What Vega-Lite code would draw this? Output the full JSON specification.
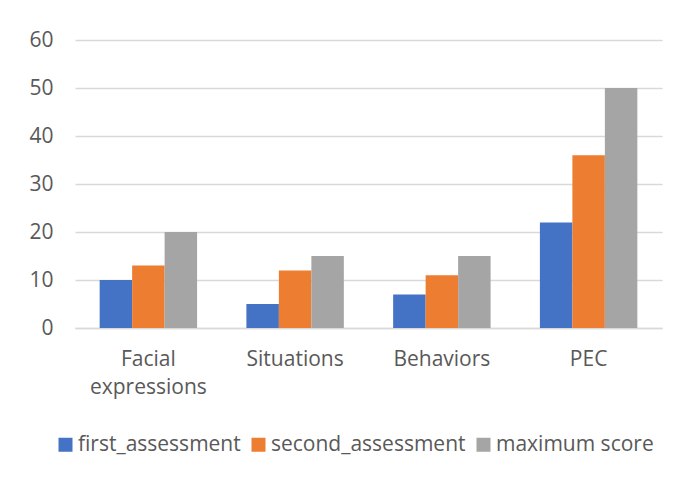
{
  "$schema": "https://vega.github.io/schema/vega-lite/v6.json",
  "width": 587,
  "height": 288,
  "autosize": "none",
  "padding": {"left": 75, "top": 40, "right": 19, "bottom": 149},
  "background": "white",
  "data": {
    "values": [
      {"category": "Facial expressions", "series": "first_assessment", "score": 10},
      {"category": "Facial expressions", "series": "second_assessment", "score": 13},
      {"category": "Facial expressions", "series": "maximum score", "score": 20},
      {"category": "Situations", "series": "first_assessment", "score": 5},
      {"category": "Situations", "series": "second_assessment", "score": 12},
      {"category": "Situations", "series": "maximum score", "score": 15},
      {"category": "Behaviors", "series": "first_assessment", "score": 7},
      {"category": "Behaviors", "series": "second_assessment", "score": 11},
      {"category": "Behaviors", "series": "maximum score", "score": 15},
      {"category": "PEC", "series": "first_assessment", "score": 22},
      {"category": "PEC", "series": "second_assessment", "score": 36},
      {"category": "PEC", "series": "maximum score", "score": 50}
    ]
  },
  "mark": {"type": "bar"},
  "encoding": {
    "x": {
      "field": "category",
      "type": "nominal",
      "sort": ["Facial expressions", "Situations", "Behaviors", "PEC"],
      "scale": {"paddingInner": 0.336, "paddingOuter": 0.168},
      "axis": {
        "title": null,
        "labelAngle": 0,
        "labelFontSize": 21,
        "labelColor": "#595959",
        "labelPadding": 20,
        "labelLineHeight": 28,
        "labelExpr": "datum.value == 'Facial expressions' ? ['Facial', 'expressions'] : datum.value",
        "ticks": false,
        "domainColor": "#d9d9d9",
        "domainWidth": 1.5,
        "grid": false
      }
    },
    "xOffset": {
      "field": "series",
      "sort": ["first_assessment", "second_assessment", "maximum score"],
      "scale": {"paddingInner": 0, "paddingOuter": 0}
    },
    "y": {
      "field": "score",
      "type": "quantitative",
      "scale": {"domain": [0, 60]},
      "axis": {
        "title": null,
        "values": [0, 10, 20, 30, 40, 50, 60],
        "labelFontSize": 21,
        "labelColor": "#595959",
        "labelPadding": 22,
        "ticks": false,
        "domain": false,
        "gridColor": "#d9d9d9",
        "gridWidth": 1.5
      }
    },
    "color": {
      "field": "series",
      "type": "nominal",
      "sort": ["first_assessment", "second_assessment", "maximum score"],
      "scale": {
        "domain": ["first_assessment", "second_assessment", "maximum score"],
        "range": ["#4472C4", "#ED7D31", "#A5A5A5"]
      },
      "legend": {
        "title": null,
        "orient": "none",
        "direction": "horizontal",
        "legendX": -20,
        "legendY": 394,
        "symbolType": "square",
        "symbolSize": 196,
        "symbolStrokeWidth": 0,
        "labelFontSize": 21,
        "labelColor": "#595959",
        "labelOffset": 2,
        "labelLimit": 400,
        "columnPadding": 7
      }
    }
  },
  "config": {
    "view": {"stroke": null},
    "font": "Open Sans"
  }
}
